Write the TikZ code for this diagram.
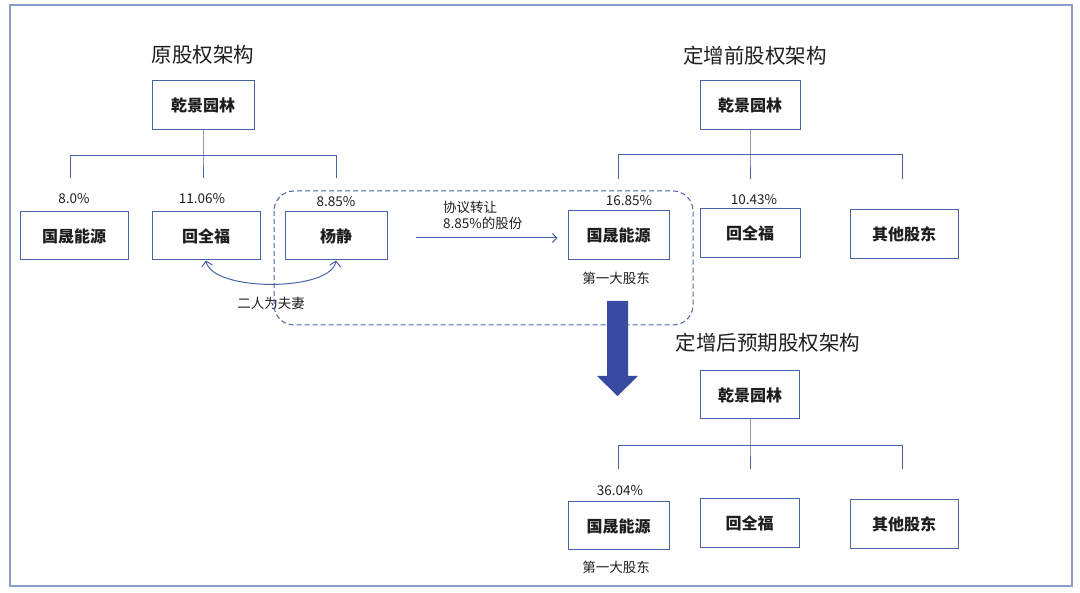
\documentclass[tikz,border=0pt]{standalone}
\usepackage{fontspec}
\setmainfont{Noto Sans CJK SC}
\usetikzlibrary{arrows.meta,calc}
\definecolor{lnc}{RGB}{72,100,165}
\definecolor{frc}{RGB}{140,156,200}
\definecolor{bigc}{RGB}{55,76,160}
\definecolor{txc}{RGB}{30,30,30}
\tikzset{
  box/.style={draw=lnc, line width=1pt, inner sep=0pt, text=txc, font=\fontsize{16}{18}\selectfont\bfseries},
  pct/.style={inner sep=0pt, text=txc, font=\fontsize{13.5}{16}\selectfont},
  note/.style={inner sep=0pt, text=txc, font=\fontsize{13.5}{16}\selectfont},
  ttl/.style={inner sep=0pt, text=txc, font=\fontsize{20.5}{24}\selectfont},
  tree/.style={draw=lnc, line width=0.9pt},
  grpbox/.style={draw=lnc, line width=1pt, dash pattern=on 5pt off 3pt, rounded corners=20pt}
}
\begin{document}
\begin{tikzpicture}[x=1pt,y=-1pt]
\useasboundingbox (0,0) rectangle (1080,593);
\draw[frc, line width=1.5pt] (10,5) rectangle (1072,586);

% ---------- left: original structure ----------
\node[ttl] (tL) at (203,55) {原股权架构};
\node[box, minimum width=102pt, minimum height=49pt] (L0) at (203,105.5) {乾景园林};
\node[box, minimum width=108pt, minimum height=48pt] (L1) at (74,236) {国晟能源};
\node[box, minimum width=108pt, minimum height=48pt] (L2) at (206,236) {回全福};
\node[box, minimum width=102pt, minimum height=48pt] (L3) at (336,236) {杨静};
\node[pct] (pL1) at (74,199) {8.0\%};
\node[pct] (pL2) at (202,199) {11.06\%};
\node[pct] (pL3) at (336,202) {8.85\%};
\coordinate (Lh) at (203,155);
\coordinate (Lh1) at (70,155);
\coordinate (Lh3) at (336,155);
\coordinate (Ld1) at (70,178);
\coordinate (Ld2) at (203,178);
\coordinate (Ld3) at (336,178);
\draw[tree] (L0.south) -- (L0.south |- Lh) -- (L0.south |- Ld2);
\draw[tree] (Ld1) -- (Lh1) -- (Lh3) -- (Ld3);
\draw[lnc, line width=1pt, {Straight Barb[length=5pt,width=11pt]}-{Straight Barb[length=5pt,width=11pt]}]
  (L2.south) .. controls (212,292) and (331,292) .. (L3.south);
\node[note] (cp) at (271,303) {二人为夫妻};

% ---------- dashed group ----------
\draw[grpbox] (274,191) rectangle (693,325);

% ---------- transfer ----------
\node[box, minimum width=101pt, minimum height=49pt] (R1) at (618.5,235.5) {国晟能源};
\draw[lnc, line width=1pt, -{Straight Barb[length=4.5pt,width=9pt]}]
  ($(L3.east)+(28,2)$) -- ($(R1.west)+(-10,2.5)$);
\node[note, anchor=west, align=left] (tr) at (443,215) {协议转让\\8.85\%的股份};

% ---------- right top ----------
\node[ttl] (tR) at (755,56) {定增前股权架构};
\node[box, minimum width=100pt, minimum height=49pt] (R0) at (750,105.5) {乾景园林};
\node[box, minimum width=100pt, minimum height=49pt] (R2) at (750,233.5) {回全福};
\node[box, minimum width=108pt, minimum height=49pt] (R3) at (904,234.5) {其他股东};
\node[pct] (pR1) at (629,201) {16.85\%};
\node[pct] (pR2) at (754,200) {10.43\%};
\node[note] (fR) at (616,278) {第一大股东};
\coordinate (Rh) at (750,154.5);
\coordinate (Rh1) at (618,154.5);
\coordinate (Rh3) at (902,154.5);
\coordinate (Rd1) at (618,179);
\coordinate (Rd2) at (750,179);
\coordinate (Rd3) at (902,179);
\draw[tree] (R0.south) -- (R0.south |- Rh) -- (R0.south |- Rd2);
\draw[tree] (Rd1) -- (Rh1) -- (Rh3) -- (Rd3);

% ---------- big arrow ----------
\fill[bigc] (607,301) -- (628,301) -- (628,376) -- (638,376) -- (617.5,396) -- (597,376) -- (607,376) -- cycle;

% ---------- right bottom ----------
\node[ttl] (tB) at (768,343) {定增后预期股权架构};
\node[box, minimum width=99pt, minimum height=48pt] (B0) at (750,395) {乾景园林};
\node[box, minimum width=101pt, minimum height=48pt] (B1) at (618.5,526) {国晟能源};
\node[box, minimum width=99pt, minimum height=49pt] (B2) at (749.5,523.5) {回全福};
\node[box, minimum width=108pt, minimum height=49pt] (B3) at (904,524.5) {其他股东};
\node[pct] (pB1) at (620,491) {36.04\%};
\node[note] (fB) at (616,567) {第一大股东};
\coordinate (Bh) at (750,445);
\coordinate (Bh1) at (618,445);
\coordinate (Bh3) at (902,445);
\coordinate (Bd1) at (618,469);
\coordinate (Bd2) at (750,469);
\coordinate (Bd3) at (902,469);
\draw[tree] (B0.south) -- (B0.south |- Bh) -- (B0.south |- Bd2);
\draw[tree] (Bd1) -- (Bh1) -- (Bh3) -- (Bd3);
\end{tikzpicture}
\end{document}
